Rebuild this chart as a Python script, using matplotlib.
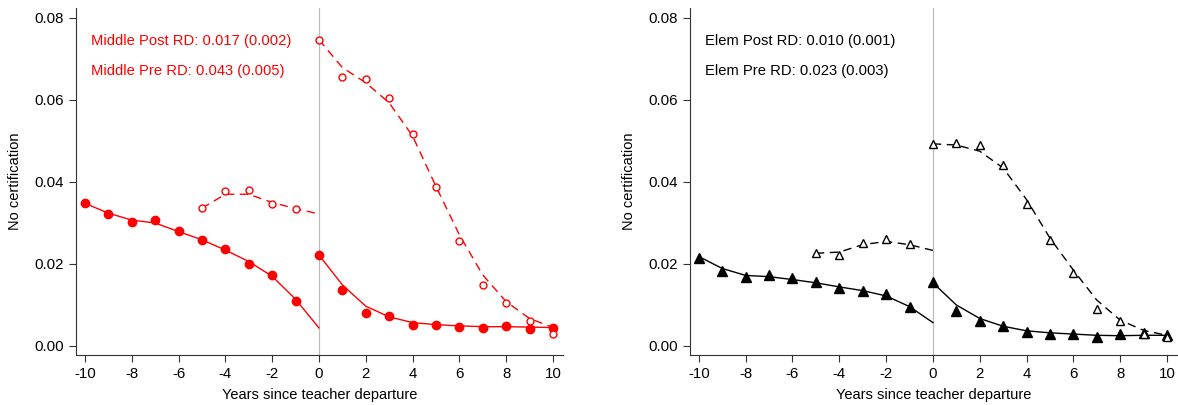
import numpy as np
import matplotlib
matplotlib.use("Agg")
import matplotlib.pyplot as plt

plt.rcParams["font.family"] = ["Liberation Sans", "DejaVu Sans"]

#------------------------- data -------------------------
years_pre = list(range(-10, 0))
years_pre5 = list(range(-5, 0))
years_post = list(range(0, 11))
fit_pre = list(range(-10, 1))
fit_pre5 = list(range(-5, 1))

# Middle school (red)
mid_post_pre = [0.0348, 0.0322, 0.0302, 0.0308, 0.0281, 0.0258, 0.0236, 0.0201, 0.0173, 0.0109]
mid_post_pre_fit = [0.0348, 0.0324, 0.0307, 0.0300, 0.0279, 0.0259, 0.0234, 0.0206, 0.0170, 0.0114, 0.0044]
mid_post_post = [0.0222, 0.0136, 0.0081, 0.0073, 0.0051, 0.0050, 0.0046, 0.0045, 0.0049, 0.0042, 0.0045]
mid_post_post_fit = [0.0222, 0.0149, 0.0097, 0.0071, 0.0057, 0.0052, 0.0049, 0.0047, 0.0047, 0.0046, 0.0045]
mid_pre_pre = [0.0336, 0.0379, 0.0381, 0.0346, 0.0334]
mid_pre_pre_fit = [0.0336, 0.0370, 0.0370, 0.0350, 0.0335, 0.0322]
mid_pre_post = [0.0747, 0.0655, 0.0651, 0.0604, 0.0516, 0.0387, 0.0256, 0.0149, 0.0105, 0.0060, 0.0028]
mid_pre_post_fit = [0.0747, 0.0679, 0.0642, 0.0593, 0.0512, 0.0389, 0.0271, 0.0173, 0.0108, 0.0067, 0.0045]

# Elementary school (black)
elem_post_pre = [0.0214, 0.0183, 0.0167, 0.0172, 0.0165, 0.0156, 0.0141, 0.0135, 0.0127, 0.0096]
elem_post_pre_fit = [0.0218, 0.0189, 0.0172, 0.0169, 0.0162, 0.0154, 0.0144, 0.0135, 0.0122, 0.0096, 0.0057]
elem_post_post = [0.0157, 0.0085, 0.0060, 0.0049, 0.0034, 0.0030, 0.0028, 0.0022, 0.0028, 0.0032, 0.0026]
elem_post_post_fit = [0.0154, 0.0100, 0.0067, 0.0048, 0.0037, 0.0032, 0.0029, 0.0026, 0.0025, 0.0026, 0.0026]
elem_pre_pre = [0.0226, 0.0221, 0.0252, 0.0260, 0.0248]
elem_pre_pre_fit = [0.0226, 0.0229, 0.0247, 0.0255, 0.0247, 0.0233]
elem_pre_post = [0.0493, 0.0494, 0.0491, 0.0442, 0.0347, 0.0259, 0.0177, 0.0090, 0.0060, 0.0030, 0.0022]
elem_pre_post_fit = [0.0493, 0.0490, 0.0475, 0.0434, 0.0357, 0.0263, 0.0185, 0.0112, 0.0063, 0.0038, 0.0026]

mid_labels = ["Middle Post RD: 0.017 (0.002)", "Middle Pre RD: 0.043 (0.005)"]
elem_labels = ["Elem Post RD: 0.010 (0.001)", "Elem Pre RD: 0.023 (0.003)"]

yticks = [0.0, 0.02, 0.04, 0.06, 0.08]
xticks = list(range(-10, 11, 2))

#------------------------------- plotting ----------------------------------
fig = plt.figure(figsize=(11.78, 4.05), dpi=100)
ax1 = fig.add_axes([0.0645, 0.1235, 0.4135, 0.8565])
ax2 = fig.add_axes([0.5857, 0.1235, 0.4135, 0.8565])

panels = [
    (ax1, "red", "o", "o", 6, 5,
     mid_post_pre, mid_post_pre_fit, mid_post_post, mid_post_post_fit,
     mid_pre_pre, mid_pre_pre_fit, mid_pre_post, mid_pre_post_fit, mid_labels),
    (ax2, "black", "^", "^", 6.8, 6,
     elem_post_pre, elem_post_pre_fit, elem_post_post, elem_post_post_fit,
     elem_pre_pre, elem_pre_pre_fit, elem_pre_post, elem_pre_post_fit, elem_labels),
]

for (ax, col, mk_f, mk_o, ms_f, ms_o, pp, ppf, ppo, ppof, rp, rpf, rpo, rpof, labels) in panels:
    ax.axvline(0, color="#bbbbbb", lw=0.9, zorder=1)
    # post-RD series (solid, filled markers)
    ax.plot(fit_pre, ppf, color=col, lw=1.0, zorder=2)
    ax.plot(years_post, ppof, color=col, lw=1.0, zorder=2)
    ax.plot(years_pre, pp, ls="none", marker=mk_f, ms=ms_f, color=col, zorder=3)
    ax.plot(years_post, ppo, ls="none", marker=mk_f, ms=ms_f, color=col, zorder=3)
    # pre-RD series (dashed, hollow markers)
    ax.plot(fit_pre5, rpf, color=col, lw=1.0, ls=(0, (6, 4)), zorder=2)
    ax.plot(years_post, rpof, color=col, lw=1.0, ls=(0, (6, 4)), zorder=2)
    ax.plot(years_pre5, rp, ls="none", marker=mk_o, ms=ms_o, mfc="white", mec=col, mew=1.0, zorder=3)
    ax.plot(years_post, rpo, ls="none", marker=mk_o, ms=ms_o, mfc="white", mec=col, mew=1.0, zorder=3)

    ax.text(-9.74, 0.0744, labels[0], color=col, fontsize=10.6, va="center", ha="left")
    ax.text(-9.74, 0.0671, labels[1], color=col, fontsize=10.6, va="center", ha="left")

    ax.set_xlim(-10.38, 10.43)
    ax.set_ylim(-0.0022, 0.0824)
    ax.set_xticks(xticks)
    ax.set_xticklabels([str(t) for t in xticks])
    ax.set_yticks(yticks)
    ax.set_yticklabels(["%.2f" % t for t in yticks])
    ax.tick_params(direction="out", length=5, width=0.8, labelsize=10.8, color="#333333")
    ax.spines["top"].set_visible(False)
    ax.spines["right"].set_visible(False)
    ax.spines["left"].set_color("#333333")
    ax.spines["bottom"].set_color("#333333")
    ax.set_xlabel("Years since teacher departure", fontsize=10.5, labelpad=5)
    ax.set_ylabel("No certification", fontsize=10.5, labelpad=9)

fig.savefig("out.png", dpi=100)
